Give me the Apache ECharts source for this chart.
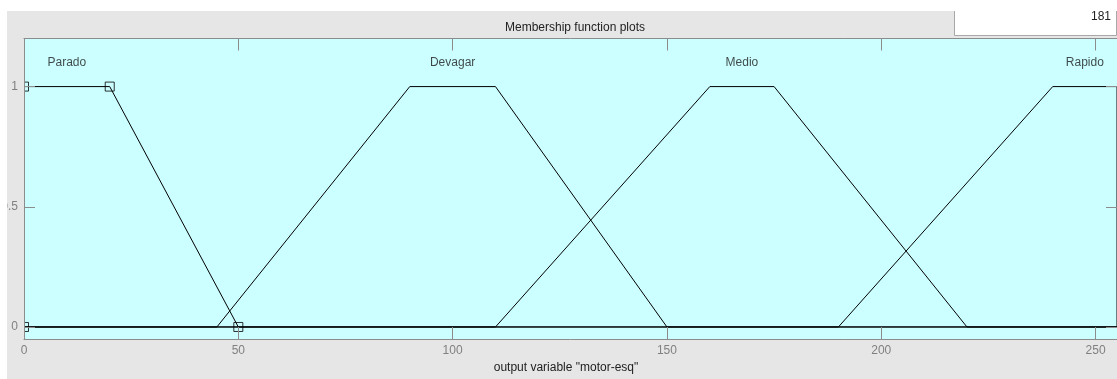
<!DOCTYPE html>
<html>
<head>
<meta charset="utf-8">
<script src="https://cdn.jsdelivr.net/npm/echarts@6/dist/echarts.min.js"></script>
<style>
  html, body { margin: 0; padding: 0; background: #ffffff; width: 1117px; height: 379px; overflow: hidden; }
  #panel { position: absolute; left: 7px; top: 11px; width: 1110px; height: 368px; background: #e6e6e6; }
</style>
</head>
<body>
<div id="panel"></div>
<script>
// Output variable "motor-esq": range 0..255, four trapezoidal membership functions
const mfNames = ['Parado', 'Devagar', 'Medio', 'Rapido'];
// trapmf parameters [a, b, c, d]
const parado  = [0, 0, 20, 50];
const devagar = [45, 90, 110, 150];
const medio   = [110, 160, 175, 220];
const rapido  = [190, 240, 255, 255];
const mfParams = [parado, devagar, medio, rapido];
const selectedMf = 0;          // MF whose vertices are marked
const xRange = [0, 255];
const yRange = [-0.05, 1.2];
const xTicks = [0, 50, 100, 150, 200, 250];
const yTicks = [0, 0.5, 1];
const pointCount = '181';

const FONT = "'Liberation Sans', Arial, sans-serif";
const AXIS_GRAY = '#8c8c8c';
const LABEL_GRAY = '#808080';

// polyline through the trapezoid vertices, with the zero level across the whole range
function trapLine(p) {
  const [a, b, c, d] = p;
  const pts = [];
  if (a > xRange[0]) pts.push([xRange[0], 0]);
  pts.push([a, 0], [b, 1], [c, 1], [d, 0]);
  if (d < xRange[1]) pts.push([xRange[1], 0]);
  return pts;
}

const series = mfParams.map((p, i) => ({
  type: 'line',
  name: mfNames[i],
  data: trapLine(p),
  symbol: 'none',
  lineStyle: { color: '#000', width: 1 },
  z: 2,
  animation: false,
  silent: true
}));

// MF names above the plateau centres
series.push({
  type: 'scatter',
  data: mfParams.map((p, i) => ({ value: [(p[1] + p[2]) / 2, 1.1], name: mfNames[i] })),
  symbolSize: 0,
  label: {
    show: true, position: 'inside', formatter: d => d.name,
    color: '#1a1a1a', fontFamily: FONT, fontSize: 12
  },
  z: 3,
  animation: false,
  silent: true
});

// vertex handles of the selected MF
const sp = mfParams[selectedMf];
series.push({
  type: 'scatter',
  data: [[sp[0], 0], [sp[1], 1], [sp[2], 1], [sp[3], 0]],
  symbol: 'rect',
  symbolSize: 9,
  itemStyle: { color: 'rgba(0,0,0,0)', borderColor: '#000', borderWidth: 1 },
  z: 2,
  clip: false,
  animation: false,
  silent: true
});

const gridTop = 27.5, gridLeft = 17, gridBottom = 40;

const chart = echarts.init(document.getElementById('panel'), null, { renderer: 'canvas' });
chart.setOption({
  animation: false,
  backgroundColor: '#e6e6e6',
  title: {
    text: 'Membership function plots',
    left: 563, top: 6, textAlign: 'center',
    textStyle: { color: '#222', fontFamily: FONT, fontSize: 12, fontWeight: 'normal' }
  },
  grid: {
    left: gridLeft, right: 0, top: gridTop, bottom: gridBottom,
    containLabel: false, outerBoundsMode: 'none',
    show: true, backgroundColor: '#ccffff', borderWidth: 0
  },
  xAxis: [{
    type: 'value', position: 'bottom', min: xRange[0], max: xRange[1], z: 5,
    splitLine: { show: false },
    axisLine: { show: true, onZero: false, lineStyle: { color: AXIS_GRAY, width: 1 } },
    axisTick: { show: true, inside: true, length: 12, customValues: xTicks, lineStyle: { color: AXIS_GRAY } },
    axisLabel: { show: true, customValues: xTicks, margin: 6, color: LABEL_GRAY, fontFamily: FONT, fontSize: 12 }
  }, {
    type: 'value', position: 'top', min: xRange[0], max: xRange[1], z: 5,
    splitLine: { show: false },
    axisLine: { show: true, onZero: false, lineStyle: { color: AXIS_GRAY, width: 1 } },
    axisTick: { show: true, inside: true, length: 12, customValues: xTicks, lineStyle: { color: AXIS_GRAY } },
    axisLabel: { show: false }
  }],
  yAxis: [{
    type: 'value', position: 'left', min: yRange[0], max: yRange[1], z: 5,
    splitLine: { show: false },
    axisLine: { show: true, onZero: false, lineStyle: { color: AXIS_GRAY, width: 1 } },
    axisTick: { show: true, inside: true, length: 11, customValues: yTicks, lineStyle: { color: AXIS_GRAY } },
    axisLabel: { show: true, customValues: yTicks, margin: 6, color: LABEL_GRAY, fontFamily: FONT, fontSize: 12 }
  }, {
    type: 'value', position: 'right', min: yRange[0], max: yRange[1], z: 5,
    splitLine: { show: false },
    axisLine: { show: true, onZero: false, lineStyle: { color: AXIS_GRAY, width: 1 } },
    axisTick: { show: true, inside: true, length: 11, customValues: yTicks, lineStyle: { color: AXIS_GRAY } },
    axisLabel: { show: false }
  }],
  graphic: [
    // panel strip left of the axes, hides the handle halves outside the plot
    { type: 'rect', left: 0, top: gridTop, z: 4, silent: true,
      shape: { width: gridLeft, height: 368 - gridTop - gridBottom },
      style: { fill: '#e6e6e6' } },
    // point-count box
    { type: 'rect', left: 947, top: -2, z: 6, silent: true,
      shape: { width: 162, height: 26 },
      style: { fill: '#ffffff', stroke: '#a8a8a8', lineWidth: 1 } },
    { type: 'text', x: 1104, y: 6, z: 7, silent: true,
      style: { text: pointCount, fill: '#222', font: '12px ' + FONT, textAlign: 'right', textVerticalAlign: 'middle' } },
    // axis caption
    { type: 'text', x: 559, y: 357, z: 7, silent: true,
      style: { text: 'output variable "motor-esq"', fill: '#222', font: '12px ' + FONT, textAlign: 'center', textVerticalAlign: 'middle' } }
  ],
  series: series
});
</script>
</body>
</html>
